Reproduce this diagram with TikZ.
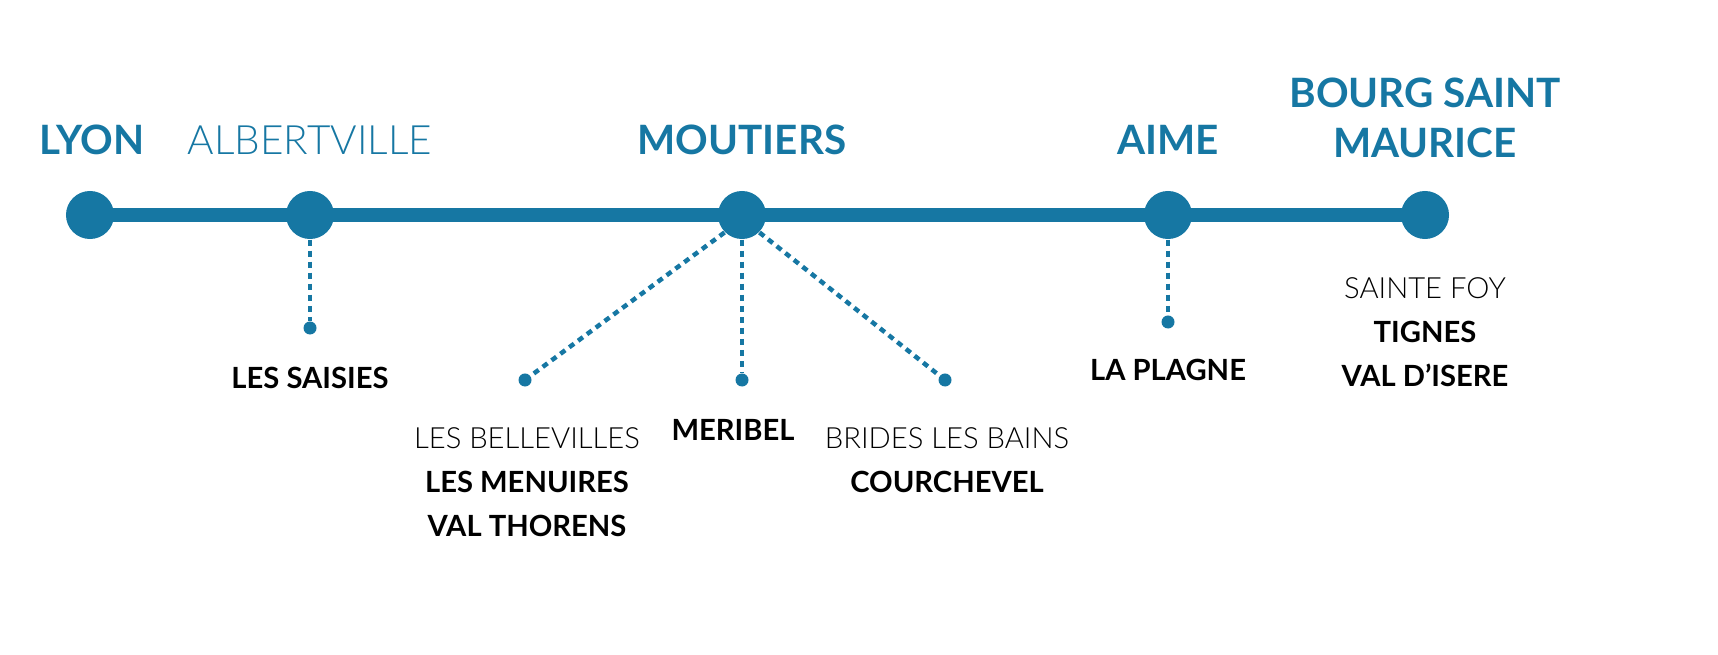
\documentclass[tikz,border=0pt]{standalone}
\usepackage{fontspec}
\setmainfont{Lato}
\newfontfamily\lightf{Lato Light}
\definecolor{tblue}{HTML}{1677A3}
\begin{document}
\begin{tikzpicture}[x=0.01cm,y=-0.01cm,
  big/.style={circle,fill=tblue,inner sep=0pt,minimum size=0.48cm},
  small/.style={circle,fill=tblue,inner sep=0pt,minimum size=0.13cm},
  dots/.style={tblue,line width=0.045cm,dash pattern=on 0.06cm off 0.05cm},
  city/.style={text=tblue,font=\fontsize{11.5}{14}\selectfont\bfseries,align=center},
  cityl/.style={text=tblue,font=\fontsize{11.5}{14}\selectfont\lightf,align=center},
  res/.style={text=black,font=\fontsize{8.3}{10.6}\selectfont,align=center}]
\useasboundingbox (0,0) rectangle (1718,655);
\coordinate (cl) at (90,215);
\coordinate (cr) at (1425,215);
\draw[tblue,line width=0.14cm] (cl) -- (cr);
\node[big] (lyon) at (90,215) {};
\node[big] (alb) at (310,215) {};
\node[big] (mou) at (742,215) {};
\node[big] (aime) at (1168,215) {};
\node[big] (bsm) at (1425,215) {};
\node[small] (sai) at (310,328) {};
\node[small] (bel) at (525,380) {};
\node[small] (mer) at (742,380) {};
\node[small] (bri) at (945,380) {};
\node[small] (pla) at (1168,322) {};
\draw[dots] (alb.south) -- (sai);
\draw[dots] (mou.225) -- (bel);
\draw[dots] (mou.south) -- (mer);
\draw[dots] (mou.315) -- (bri);
\draw[dots] (aime.south) -- (pla);
\node[city] (t1) at (92,140) {LYON};
\node[cityl] (t2) at (310,140) {ALBERTVILLE};
\node[city] (t3) at (742,140) {MOUTIERS};
\node[city] (t4) at (1168,140) {AIME};
\node[city] (t5) at (1425,118) {BOURG SAINT\\MAURICE};
\node[res] (r1) at (310,378) {\bfseries LES SAISIES};
\node[res,anchor=north] (r2) at (527,415) {{\lightf LES BELLEVILLES}\\[2pt]\bfseries LES MENUIRES\\[2pt]\bfseries VAL THORENS};
\node[res] (r3) at (733,430) {\bfseries MERIBEL};
\node[res,anchor=north] (r4) at (947,415) {{\lightf BRIDES LES BAINS}\\[2pt]\bfseries COURCHEVEL};
\node[res] (r5) at (1168,370) {\bfseries LA PLAGNE};
\node[res,anchor=north] (r6) at (1425,265) {{\lightf SAINTE FOY}\\[2pt]\bfseries TIGNES\\[2pt]\bfseries VAL D’ISERE};
\end{tikzpicture}
\end{document}
